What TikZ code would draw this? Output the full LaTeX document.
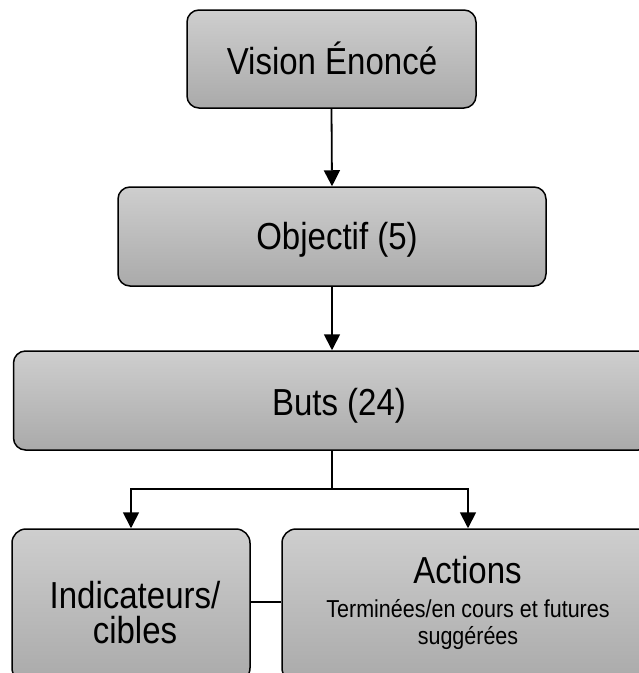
\documentclass[tikz,border=0pt]{standalone}
\usepackage{fontspec}
\setmainfont{Liberation Sans}
\usetikzlibrary{arrows.meta}
\definecolor{boxtop}{RGB}{206,206,206}
\definecolor{boxbot}{RGB}{170,170,170}
\newcommand{\tallt}[1]{\scalebox{1}[1.14]{#1}}
\tikzset{
  box/.style={draw=black, line width=1.5pt, rounded corners=12pt,
    top color=boxtop, bottom color=boxbot, inner sep=0pt},
  big/.style={font=\fontsize{33}{38}\selectfont, inner sep=0pt, anchor=base},
  small/.style={font=\fontsize{21.5}{25}\selectfont, inner sep=0pt, anchor=base},
  arr/.style={line width=1.8pt, -{Triangle[width=16pt,length=16pt]}},
  conn/.style={line width=1.8pt},
  thinconn/.style={line width=1.1pt}
}
\begin{document}
\begin{tikzpicture}[x=1pt,y=-1pt]
\useasboundingbox (0,0) rectangle (639,673);
\clip (0,0) rectangle (639,673);
% boxes
\node[box, minimum width=289pt, minimum height=98pt] (vision) at (331.5,59) {};
\node[box, minimum width=428pt, minimum height=99pt] (objectif) at (332,236.5) {};
\node[box, minimum width=637pt, minimum height=99pt] (buts) at (332,400.5) {};
\node[box, rounded corners=14pt, minimum width=238pt, minimum height=153pt] (ind) at (131,605.5) {};
\node[box, rounded corners=14pt, minimum width=372pt, minimum height=153pt] (act) at (468,605.5) {};
% texts
\node[big] (tvision) at (332,74) {\tallt{Vision Énoncé}};
\node[big] (tobj) at (337,249) {\tallt{Objectif (5)}};
\node[big] (tbuts) at (339,415) {\tallt{Buts (24)}};
\node[big] (tind1) at (135,608) {\tallt{Indicateurs/}};
\node[big] (tind2) at (135,643) {\tallt{cibles}};
\node[big] (tact) at (467.5,583) {\tallt{Actions}};
\node[small] (tact1) at (468,617) {\tallt{Terminées/en cours et futures}};
\node[small] (tact2) at (468,644) {\tallt{suggérées}};
% connectors
\coordinate (br) at (332,489);
\coordinate (lk) at (0,602);
\draw[arr] (vision.south) -- (objectif.north);
\draw[arr] (objectif.south) -- (buts.north -| objectif.south);
\draw[conn] (buts.south -| br) -- (br);
\draw[arr] (br) -| (ind.north);
\draw[arr] (br) -| (act.north);
\draw[thinconn] (ind.east |- lk) -- (act.west |- lk);
\end{tikzpicture}
\end{document}
